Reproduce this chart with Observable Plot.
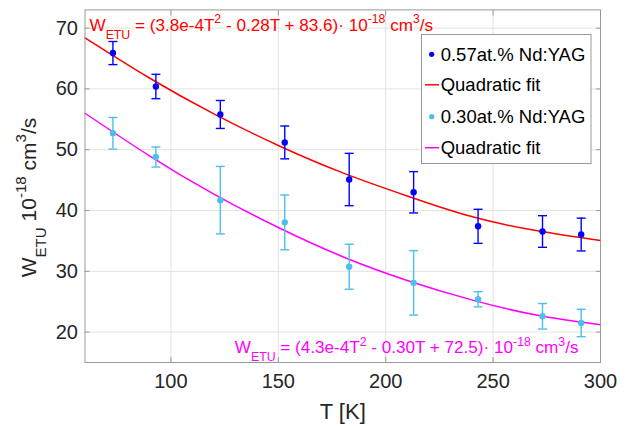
<!DOCTYPE html>
<html><head><meta charset="utf-8">
<script src="https://cdn.jsdelivr.net/npm/d3@7"></script>
<script src="https://cdn.jsdelivr.net/npm/@observablehq/plot@0.6"></script>
<style>body{margin:0;background:#fff}</style>
</head><body><div id="chart"></div>
<script>
// ---- data ----
const temps  = [73, 93, 123, 153, 183, 213, 243, 273, 291];
const w057   = [65.9, 60.4, 55.8, 51.2, 45.1, 43.0, 37.4, 36.55, 36.05];
const err057 = [1.9, 2.0, 2.3, 2.7, 4.3, 3.4, 2.8, 2.6, 2.7];
const w030   = [52.7, 48.8, 41.7, 38.05, 30.75, 28.1, 25.4, 22.6, 21.5];
const err030 = [2.6, 1.65, 5.55, 4.5, 3.7, 5.3, 1.25, 2.1, 2.25];
const fitT   = [60, 90, 120, 150, 180, 210, 240, 270, 300];
const fit057 = [68.4, 61.8, 55.9, 50.7, 46.2, 42.4, 39.0, 36.7, 35.05];
const fit030 = [56.0, 49.0, 42.7, 37.2, 32.4, 28.5, 25.3, 22.8, 21.2];
const xTicks = [100, 150, 200, 250, 300];
const yTicks = [20, 30, 40, 50, 60, 70];
const legendLabels = ["0.57at.% Nd:YAG", "Quadratic fit", "0.30at.% Nd:YAG", "Quadratic fit"];
const eqRed = "W_{ETU} = (3.8e-4T^{2} - 0.28T + 83.6)· 10^{-18} cm^{3}/s";
const eqMag = "W_{ETU} = (4.3e-4T^{2} - 0.30T + 72.5)· 10^{-18} cm^{3}/s";
const yLabel = "W_{ETU} 10^{-18} cm^{3}/s";
const xLabel = "T [K]";

const C_DARK = "#0000ff", C_LIGHT = "#4dbeee", C_RED = "#ff0000", C_MAG = "#ff00ff";
const FRAME = "#999999", GRID = "#e2e2e2", INK = "#262626";

const pts057 = temps.map((t, i) => ({T: t, w: w057[i], e: err057[i]}));
const pts030 = temps.map((t, i) => ({T: t, w: w030[i], e: err030[i]}));
const f057 = fitT.map((t, i) => ({T: t, w: fit057[i]}));
const f030 = fitT.map((t, i) => ({T: t, w: fit030[i]}));

const cap = {draw(ctx) { ctx.moveTo(-4.5, 0); ctx.lineTo(4.5, 0); }};

function errMarks(data, color) {
  return [
    Plot.ruleX(data, {x: "T", y1: d => d.w - d.e, y2: d => d.w + d.e, stroke: color, strokeWidth: 1.4}),
    Plot.dot(data, {x: "T", y: d => d.w + d.e, symbol: cap, fill: "none", stroke: color, strokeWidth: 1.4}),
    Plot.dot(data, {x: "T", y: d => d.w - d.e, symbol: cap, fill: "none", stroke: color, strokeWidth: 1.4}),
    Plot.dot(data, {x: "T", y: "w", r: 3.2, fill: color, stroke: "none"})
  ];
}

const plot = Plot.plot({
  width: 627, height: 426,
  marginLeft: 84.5, marginRight: 27, marginTop: 9.4, marginBottom: 64,
  style: {fontFamily: "'Liberation Sans', Arial, sans-serif", color: INK, background: "white", overflow: "visible"},
  x: {domain: [60, 300]},
  y: {domain: [15, 73]},
  marks: [
    Plot.gridX(xTicks, {stroke: GRID, strokeOpacity: 1}),
    Plot.gridY(yTicks, {stroke: GRID, strokeOpacity: 1}),
    Plot.axisX(xTicks, {tickSize: 0, tickPadding: 11, fontSize: 20, label: null, fill: INK}),
    Plot.axisY(yTicks, {tickSize: 0, tickPadding: 7, fontSize: 20, label: null, fill: INK}),
    Plot.axisX(xTicks, {anchor: "bottom", tickSize: 5, dy: -5, fill: "none", label: null, stroke: FRAME}),
    Plot.axisX(xTicks, {anchor: "top", tickSize: 5, dy: 5, fill: "none", label: null, stroke: FRAME}),
    Plot.axisY(yTicks, {anchor: "left", tickSize: 5, dx: 5, fill: "none", label: null, stroke: FRAME}),
    Plot.axisY(yTicks, {anchor: "right", tickSize: 5, dx: -5, fill: "none", label: null, stroke: FRAME}),
    Plot.line(f057, {x: "T", y: "w", stroke: C_RED, strokeWidth: 1.5, curve: "natural"}),
    Plot.line(f030, {x: "T", y: "w", stroke: C_MAG, strokeWidth: 1.5, curve: "natural"}),
    ...errMarks(pts057, C_DARK),
    ...errMarks(pts030, C_LIGHT),
    Plot.frame({stroke: FRAME}),
    Plot.text([eqRed], {text: d => d, frameAnchor: "top-left", textAnchor: "start", lineAnchor: "bottom", dx: 4.5, dy: 20.6, fill: C_RED, fontSize: 17.1}),
    Plot.text([eqMag], {text: d => d, frameAnchor: "bottom-right", textAnchor: "end", lineAnchor: "bottom", dx: -22, dy: -9.3, fill: C_MAG, fontSize: 17.1}),
    Plot.text([yLabel], {text: d => d, frameAnchor: "left", rotate: -90, textAnchor: "middle", lineAnchor: "bottom", dx: -49.5, dy: 11.3, fontSize: 21, fill: INK}),
    Plot.text([xLabel], {text: d => d, frameAnchor: "bottom", lineAnchor: "bottom", dy: 56, fontSize: 22, fill: INK})
  ]
});
document.getElementById("chart").appendChild(plot);

// sub/superscripts as tspans
plot.querySelectorAll("text").forEach(el => {
  const t = el.textContent;
  if (!/[_^]\{/.test(t)) return;
  const fs = parseFloat(getComputedStyle(el).fontSize);
  const parts = t.split(/([_^]\{[^}]*\})/).filter(p => p);
  el.textContent = "";
  let cur = 0;
  for (const p of parts) {
    let target = 0, txt = p, small = false;
    if (p[0] === "_" && p[1] === "{") { target = 0.48 * fs; txt = p.slice(2, -1); small = true; }
    else if (p[0] === "^" && p[1] === "{") { target = -0.45 * fs; txt = p.slice(2, -1); small = true; }
    const ts = document.createElementNS("http://www.w3.org/2000/svg", "tspan");
    ts.textContent = txt;
    const d = target - cur;
    if (d) ts.setAttribute("dy", d);
    if (small) ts.setAttribute("font-size", 0.72 * fs);
    el.appendChild(ts);
    cur = target;
  }
});

// legend
const svg = d3.select(plot);
const lg = svg.append("g").attr("font-family", "'Liberation Sans', Arial, sans-serif").attr("font-size", 18.5).attr("text-anchor", "start");
lg.append("rect").attr("x", 421.5).attr("y", 34.5).attr("width", 169.5).attr("height", 129)
  .attr("fill", "white").attr("stroke", FRAME).attr("stroke-width", 1);
const rowsY = [54.3, 84.8, 116.7, 147.7];
const kinds = [["dot", C_DARK], ["line", C_RED], ["dot", C_LIGHT], ["line", C_MAG]];
legendLabels.forEach((lab, i) => {
  const [k, c] = kinds[i];
  const y = rowsY[i];
  if (k === "dot") lg.append("circle").attr("cx", 431.7).attr("cy", y).attr("r", 2.6).attr("fill", c);
  else lg.append("line").attr("x1", 425).attr("x2", 439).attr("y1", y).attr("y2", y).attr("stroke", c).attr("stroke-width", 1.5);
  lg.append("text").attr("x", 440.7).attr("y", y).attr("dy", "0.35em").attr("fill", "#000").attr("text-anchor", "start").text(lab);
});
</script>
</body></html>
